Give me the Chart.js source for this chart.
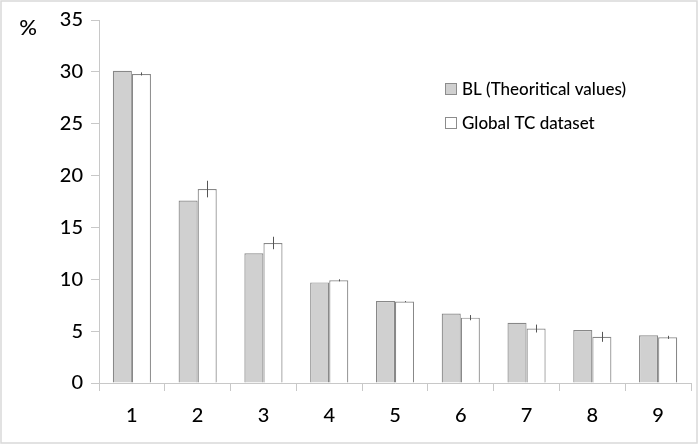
<!DOCTYPE html>
<html>
<head>
<meta charset="utf-8">
<script src="https://cdn.jsdelivr.net/npm/chart.js@4"></script>
<style>
html,body{margin:0;padding:0;background:#fff;}
#wrap{position:relative;width:700px;height:446px;}
</style>
</head>
<body>
<div id="wrap"><canvas id="c" width="700" height="446"></canvas></div>
<script>
const categories = ['1','2','3','4','5','6','7','8','9'];
const blValues = [30.1, 17.6, 12.5, 9.7, 7.9, 6.7, 5.8, 5.1, 4.6];
const tcValues = [29.8, 18.7, 13.5, 9.9, 7.85, 6.3, 5.25, 4.45, 4.4];
const tcErrors = [0.15, 0.8, 0.6, 0.1, 0.05, 0.25, 0.38, 0.48, 0.15];
const seriesLabels = ['BL (Theoritical values)', 'Global TC dataset'];
const yTicks = [0, 5, 10, 15, 20, 25, 30, 35];

const FONT = 'Lato, "Open Sans", sans-serif';

const frame = {
  id: 'frame',
  beforeDraw(chart) {
    const ctx = chart.ctx;
    ctx.save();
    ctx.fillStyle = '#fff';
    ctx.fillRect(0, 0, chart.width, chart.height);
    ctx.strokeStyle = '#d9d9d9';
    ctx.lineWidth = 1.5;
    ctx.strokeRect(1, 1, chart.width - 4, chart.height - 4);
    ctx.restore();
  },
  afterDraw(chart) {
    const ctx = chart.ctx;
    ctx.save();
    ctx.fillStyle = '#000';
    ctx.font = '500 22px ' + FONT;
    ctx.textAlign = 'center';
    ctx.textBaseline = 'middle';
    ctx.fillText('%', 28, 28);
    ctx.font = '500 17px ' + FONT;
    ctx.textAlign = 'left';
    const fills = ['#d0d0d0', '#ffffff'];
    const tops = [83, 117];
    chart.data.datasets.forEach((ds, i) => {
      ctx.fillStyle = fills[i];
      ctx.fillRect(445.5, tops[i] + 0.5, 11, 11);
      ctx.strokeStyle = '#8c8c8c';
      ctx.lineWidth = 1;
      ctx.strokeRect(445.5, tops[i] + 0.5, 11, 11);
      ctx.fillStyle = '#000';
      ctx.fillText(ds.label, 462, tops[i] + 6.5);
    });
    ctx.restore();
  }
};

const errorBars = {
  id: 'errorBars',
  afterDatasetsDraw(chart) {
    const ctx = chart.ctx;
    const y = chart.scales.y;
    const meta = chart.getDatasetMeta(1);
    ctx.save();
    ctx.strokeStyle = '#555';
    ctx.lineWidth = 1;
    meta.data.forEach((el, i) => {
      const v = tcValues[i], e = tcErrors[i];
      const x = Math.round(el.x) + 0.5;
      ctx.beginPath();
      ctx.moveTo(x, y.getPixelForValue(v + e));
      ctx.lineTo(x, y.getPixelForValue(v - e));
      ctx.stroke();
    });
    ctx.restore();
  }
};

new Chart(document.getElementById('c'), {
  type: 'bar',
  data: {
    labels: categories,
    datasets: [
      { label: seriesLabels[0], data: blValues, backgroundColor: '#d0d0d0', borderColor: '#888', borderWidth: 1.2 },
      { label: seriesLabels[1], data: tcValues, backgroundColor: '#ffffff', borderColor: '#888', borderWidth: 1.2 }
    ]
  },
  options: {
    responsive: false,
    animation: false,
    devicePixelRatio: 1,
    layout: { padding: { top: 15, right: 9, left: 0, bottom: 0 } },
    datasets: { bar: { categoryPercentage: 0.58, barPercentage: 1.0 } },
    plugins: { legend: { display: false }, tooltip: { enabled: false } },
    scales: {
      x: {
        grid: { drawOnChartArea: false, drawTicks: true, tickLength: 8, color: '#c8c8c8', offset: true },
        border: { color: '#c8c8c8' },
        ticks: { color: '#000', font: { family: FONT, size: 20, weight: '500' }, padding: 13 },
        afterFit(s) { s.height = 63; }
      },
      y: {
        min: 0, max: 35,
        afterBuildTicks(s) { s.ticks = yTicks.map(v => ({ value: v })); },
        grid: { drawOnChartArea: false, drawTicks: true, tickLength: 8, color: '#c8c8c8' },
        border: { color: '#c8c8c8' },
        ticks: { color: '#000', font: { family: FONT, size: 20, weight: '500' }, padding: 8 },
        afterFit(s) { s.width = 99; }
      }
    }
  },
  plugins: [frame, errorBars]
});
</script>
</body>
</html>
